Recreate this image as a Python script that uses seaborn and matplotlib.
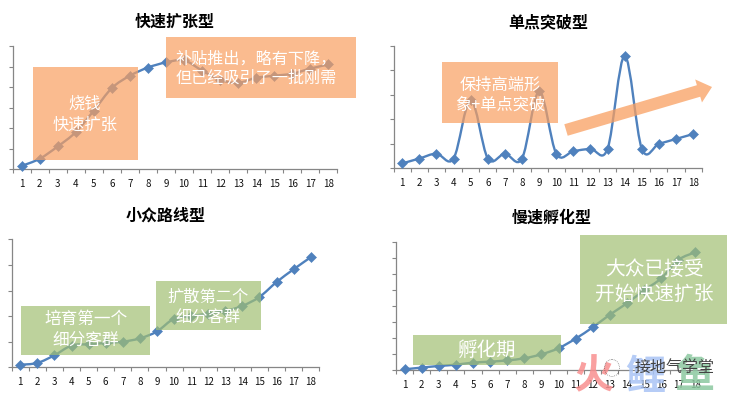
import matplotlib
matplotlib.use('Agg')
import matplotlib.pyplot as plt
import numpy as np
import pandas as pd
import seaborn as sns
from matplotlib.patches import Ellipse, FancyArrow, PathPatch, Rectangle
from matplotlib.path import Path
from matplotlib.transforms import Affine2D

W, H = 741, 401

months = list(range(1, 19))
fast_growth = [.15, .5, 1.1, 1.8, 2.85, 3.95, 4.55, 4.95, 5.2, 5.3, 4.8, 4.35, 4.2, 4.45, 4.55, 4.65, 4.9, 5.1]
breakout = [.2, .4, .6, .4, 2.8, .4, .6, .4, 3.15, .6, .7, .8, .8, 4.6, .8, 1.0, 1.2, 1.4]
niche = [.1, .17, .47, .85, .9, .95, 1.0, 1.13, 1.4, 1.9, 2.0, 2.1, 2.2, 2.4, 2.75, 3.33, 3.83, 4.3]
slow_start = [.06, .17, .27, .35, .48, .54, .62, .75, 1.0, 1.38, 1.98, 2.69, 3.48, 4.19, 5.0, 5.75, 6.9, 7.38]

LINE = '#4F81BD'
AXIS = '#868686'
ORANGE = '#F99F60'
GREEN = '#A1BF72'

sns.set_theme(style='white')
plt.rcParams['font.family'] = ['Noto Sans CJK SC', 'DejaVu Sans']

fig = plt.figure(figsize=(W / 100, H / 100), dpi=100, facecolor='white')
# overlays are placed in picture pixels, origin top left
px = Affine2D().scale(1 / W, -1 / H).translate(0, 1) + fig.transFigure


def smooth_path(xs, ys):
    # same kind of curve the spreadsheet draws for a smoothed line
    pts = np.column_stack([xs, ys])
    verts = [pts[0]]
    codes = [Path.MOVETO]
    for i in range(len(pts) - 1):
        prev = pts[max(i - 1, 0)]
        nxt = pts[min(i + 2, len(pts) - 1)]
        verts += [pts[i] + (pts[i + 1] - prev) / 6, pts[i + 1] - (nxt - pts[i]) / 6, pts[i + 1]]
        codes += [Path.CURVE4] * 3
    return Path(verts, codes)


def panel(left, right, top, bottom, values, ymax, title, title_x, title_y):
    ax = fig.add_axes([left / W, 1 - bottom / H, (right - left) / W, (bottom - top) / H])
    df = pd.DataFrame({'month': months, 'value': values})
    ax.add_patch(PathPatch(smooth_path(months, values), fill=False, ec=LINE, lw=1.7))
    sns.scatterplot(data=df, x='month', y='value', ax=ax, marker='D', s=26, color=LINE,
                    edgecolor=LINE, linewidth=0.4, zorder=3, clip_on=False)
    ax.set_xlim(0.5, 18.5)
    ax.set_ylim(0, ymax)
    ax.set_xlabel('')
    ax.set_ylabel('')
    ax.set_xticks(np.arange(0.5, 19))
    ax.set_xticklabels([])
    ax.set_xticks(months, minor=True)
    ax.set_xticklabels([str(m) for m in months], minor=True, fontsize=7, color='#111111')
    ax.set_yticks(range(ymax + 1))
    ax.set_yticklabels([])
    ax.tick_params(axis='x', which='major', length=3, width=0.8, color=AXIS, bottom=True)
    ax.tick_params(axis='x', which='minor', length=0, pad=7, bottom=True)
    ax.tick_params(axis='y', length=3, width=0.8, color=AXIS, left=True)
    sns.despine(ax=ax)
    for side in ('left', 'bottom'):
        ax.spines[side].set_color(AXIS)
        ax.spines[side].set_linewidth(0.9)
    ax.patch.set_alpha(0)
    fig.text(title_x, title_y, title, transform=px, ha='center', va='center', fontsize=11.5,
             fontweight='bold', color='black')
    return ax


def box(x0, x1, y0, y1, color):
    fig.add_artist(Rectangle((x0, y0), x1 - x0, y1 - y0, transform=px,
                             fc=color, ec='none', alpha=0.7, zorder=5))


def label(x, y, s, size, spacing=1.28):
    fig.text(x, y, s, transform=px, ha='center', va='center', fontsize=size, color='white',
             linespacing=spacing, zorder=6)


panel(12.6, 337.5, 46, 169, fast_growth, 6, '快速扩张型', 175, 22)
panel(393.7, 701.7, 46, 168.3, breakout, 5, '单点突破型', 548, 22)
panel(11.7, 319.3, 239.3, 367.3, niche, 5, '小众路线型', 166, 216)
panel(396, 704, 242.3, 370.3, slow_start, 8, '慢速孵化型', 552, 218)

box(33, 138, 67, 160, ORANGE)
box(166, 356, 37, 98, ORANGE)
box(442, 558, 62, 123, ORANGE)
box(21, 150, 306, 355, GREEN)
box(156, 261, 281, 330, GREEN)
box(413, 561, 335, 365, GREEN)
box(580, 727, 235, 324, GREEN)

label(85, 115, '烧钱\n快速扩张', 11.7)
label(256, 69, '补贴推出，略有下降，\n但已经吸引了一批刚需', 11.6, 1.14)
label(500, 95, '保持高端形\n象+单点突破', 11.7, 1.2)
label(86, 330, '培育第一个\n细分客群', 12)
label(208, 308, '扩散第二个\n细分客群', 11.7)
label(487, 350, '孵化期', 14)
label(654, 282, '大众已接受\n开始快速扩张', 14.2, 1.2)

# rising arrow in the top right panel
fig.add_artist(FancyArrow(566, 130, 146, -43, width=12, head_width=24, head_length=14,
                          length_includes_head=True, transform=px,
                          fc=ORANGE, ec='none', alpha=0.75, zorder=5))

# watermark
for x, s, c in [(594, '火', '#F98F8F'), (645, '鲤', '#A9C4F5'), (695, '鱼', '#8CC8A0')]:
    fig.text(x, 377, s, transform=px, ha='center', va='center', fontsize=29, fontweight='bold',
             color=c, alpha=0.85, zorder=7)
fig.add_artist(Ellipse((612, 368), 15, 17, transform=px, fill=False, ec='#555555',
                       lw=0.5, ls=':', zorder=8))
fig.text(675, 367, '接地气学堂', transform=px, ha='center', va='center', fontsize=11.5,
         color='#444444', zorder=8)

fig.savefig('out.png', dpi=100)
